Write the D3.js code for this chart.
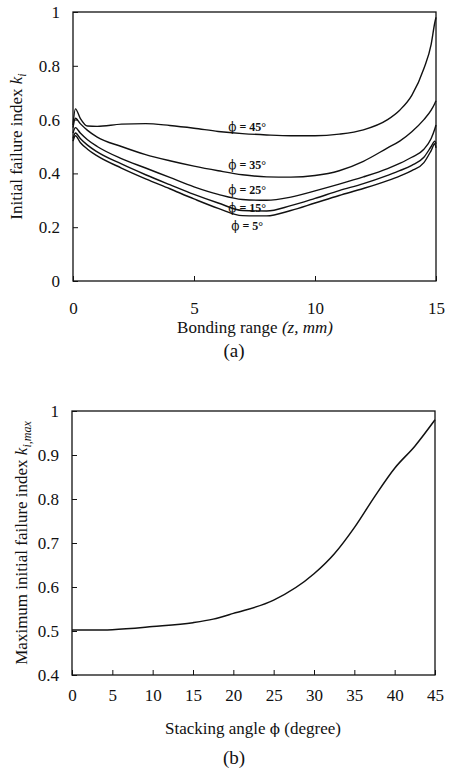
<!DOCTYPE html>
<html><head><meta charset="utf-8">
<script src="https://cdn.jsdelivr.net/npm/d3@7"></script>
<style>
html,body{margin:0;padding:0;background:#fff;}
svg text{font-family:"Liberation Serif","Times New Roman",serif;fill:#111;}
</style></head>
<body><svg id="c" width="451" height="774"></svg>
<script>
// ---------- data: chart (a) ----------
const zValues = [0, 0.1, 0.3, 0.6, 1, 2, 3, 4, 5, 6, 7, 8, 9, 10, 11, 12, 13, 13.5, 14, 14.5, 14.8, 14.95, 15];
const k45 = [0.58, 0.64, 0.605, 0.576, 0.575, 0.583, 0.585, 0.578, 0.568, 0.556, 0.548, 0.543, 0.54, 0.54, 0.546, 0.562, 0.6, 0.635, 0.69, 0.79, 0.88, 0.96, 0.98];
const k35 = [0.57, 0.605, 0.585, 0.56, 0.535, 0.5, 0.47, 0.447, 0.427, 0.41, 0.395, 0.387, 0.386, 0.392, 0.41, 0.445, 0.495, 0.52, 0.555, 0.6, 0.635, 0.66, 0.67];
const k25 = [0.55, 0.57, 0.55, 0.525, 0.5, 0.455, 0.42, 0.385, 0.35, 0.322, 0.303, 0.3, 0.312, 0.335, 0.36, 0.387, 0.418, 0.437, 0.46, 0.49, 0.53, 0.565, 0.58];
const k15 = [0.53, 0.55, 0.53, 0.505, 0.48, 0.435, 0.395, 0.358, 0.322, 0.29, 0.262, 0.26, 0.28, 0.307, 0.336, 0.362, 0.393, 0.41, 0.43, 0.46, 0.5, 0.52, 0.51];
const k5  = [0.52, 0.54, 0.515, 0.49, 0.465, 0.42, 0.38, 0.343, 0.305, 0.27, 0.243, 0.242, 0.262, 0.29, 0.318, 0.344, 0.373, 0.39, 0.41, 0.44, 0.485, 0.51, 0.495];
const seriesA = [k45, k35, k25, k15, k5];
const labelAngles = [45, 35, 25, 15, 5];
const labelZ = [7.2, 7.2, 7.2, 7.2, 7.2];
const labelK = [0.572, 0.431, 0.338, 0.271, 0.204];
const ticksAx = [0, 5, 10, 15];
const ticksAy = [0, 0.2, 0.4, 0.6, 0.8, 1];

// ---------- data: chart (b) ----------
const phiValues = [0, 3, 5, 10, 15, 17.5, 20, 25, 30, 32.5, 35, 37.5, 40, 42.5, 45];
const kMax = [0.502, 0.502, 0.503, 0.51, 0.519, 0.527, 0.54, 0.57, 0.63, 0.675, 0.735, 0.805, 0.87, 0.92, 0.98];
const ticksBx = [0, 5, 10, 15, 20, 25, 30, 35, 40, 45];
const ticksBy = [0.4, 0.5, 0.6, 0.7, 0.8, 0.9, 1];

const PHI = "\u03D5";
const PHI_FONT = "DejaVu Serif";
const svg = d3.select("#c");
const fmt = d => String(d);

function frame(g, x, y, xt, yt, xpad) {
  g.append("g").attr("transform", `translate(0,${y.range()[0]})`)
    .call(d3.axisBottom(x).tickValues(xt).tickFormat(fmt).tickSizeInner(-5).tickSizeOuter(0).tickPadding(xpad))
    .call(a => a.select(".domain").remove())
    .call(a => a.selectAll("text").attr("font-size", 17).attr("font-family", "Liberation Serif").attr("fill", "#111"))
    .call(a => a.selectAll("line").attr("stroke", "#111"));
  g.append("g").attr("transform", `translate(${x.range()[0]},0)`)
    .call(d3.axisLeft(y).tickValues(yt).tickFormat(fmt).tickSizeInner(-5).tickSizeOuter(0).tickPadding(13))
    .call(a => a.select(".domain").remove())
    .call(a => a.selectAll("text").attr("font-size", 17).attr("font-family", "Liberation Serif").attr("fill", "#111"))
    .call(a => a.selectAll("line").attr("stroke", "#111"));
  g.append("rect")
    .attr("x", x.range()[0]).attr("y", y.range()[1])
    .attr("width", x.range()[1] - x.range()[0]).attr("height", y.range()[0] - y.range()[1])
    .attr("fill", "none").attr("stroke", "#111").attr("stroke-width", 1.3);
}

// ---------- chart (a) ----------
const xa = d3.scaleLinear().domain([0, 15]).range([73, 436]);
const ya = d3.scaleLinear().domain([0, 1]).range([281, 12]);
const ga = svg.append("g");
frame(ga, xa, ya, ticksAx, ticksAy, 21);

const lineA = d3.line().x((d, i) => xa(zValues[i])).y(d => ya(d)).curve(d3.curveMonotoneX);
ga.selectAll("path.ser").data(seriesA).join("path").attr("class", "ser")
  .attr("d", lineA).attr("fill", "none").attr("stroke", "#111").attr("stroke-width", 1.4);

const labs = ga.selectAll("text.lab").data(labelAngles).join("text").attr("class", "lab")
  .attr("x", (d, i) => xa(labelZ[i])).attr("y", (d, i) => ya(labelK[i]))
  .attr("dy", "0.35em").attr("text-anchor", "middle")
  .attr("font-size", 12).attr("font-weight", "bold").attr("fill", "#111");
labs.append("tspan").attr("font-family", PHI_FONT).attr("font-weight", "normal").text(PHI);
labs.append("tspan").text(d => ` = ${d}\u00B0`);

// y title
const tA = svg.append("text").attr("transform", `translate(22,${ya(0.5)}) rotate(-90)`)
  .attr("text-anchor", "middle").attr("font-size", 17);
tA.append("tspan").text("Initial failure index ");
tA.append("tspan").attr("font-style", "italic").text("k");
tA.append("tspan").attr("font-style", "italic").attr("font-size", 12).attr("dy", 4).text("i");

const xtA = svg.append("text").attr("x", 255).attr("y", 333).attr("text-anchor", "middle").attr("font-size", 17);
xtA.append("tspan").text("Bonding range ");
xtA.append("tspan").attr("font-style", "italic").text("(z, mm)");
svg.append("text").attr("x", 234).attr("y", 357).attr("text-anchor", "middle").attr("font-size", 19).text("(a)");

// ---------- chart (b) ----------
const xb = d3.scaleLinear().domain([0, 45]).range([72, 435]);
const yb = d3.scaleLinear().domain([0.4, 1]).range([675, 411]);
const gb = svg.append("g");
frame(gb, xb, yb, ticksBx, ticksBy, 14);

const lineB = d3.line().x((d, i) => xb(phiValues[i])).y(d => yb(d)).curve(d3.curveMonotoneX);
gb.append("path").datum(kMax).attr("d", lineB).attr("fill", "none").attr("stroke", "#111").attr("stroke-width", 1.5);

const tB = svg.append("text").attr("transform", `translate(27,${yb(0.7)}) rotate(-90)`)
  .attr("text-anchor", "middle").attr("font-size", 17);
tB.append("tspan").text("Maximum initial failure index ");
tB.append("tspan").attr("font-style", "italic").text("k");
tB.append("tspan").attr("font-style", "italic").attr("font-size", 12).attr("dy", 4).text("i,max");

const xtB = svg.append("text").attr("x", 253).attr("y", 734).attr("text-anchor", "middle").attr("font-size", 17);
xtB.append("tspan").text("Stacking angle ");
xtB.append("tspan").attr("font-family", PHI_FONT).attr("font-size", 15).text(PHI);
xtB.append("tspan").text(" (degree)");
svg.append("text").attr("x", 234).attr("y", 764).attr("text-anchor", "middle").attr("font-size", 19).text("(b)");
</script></body></html>
